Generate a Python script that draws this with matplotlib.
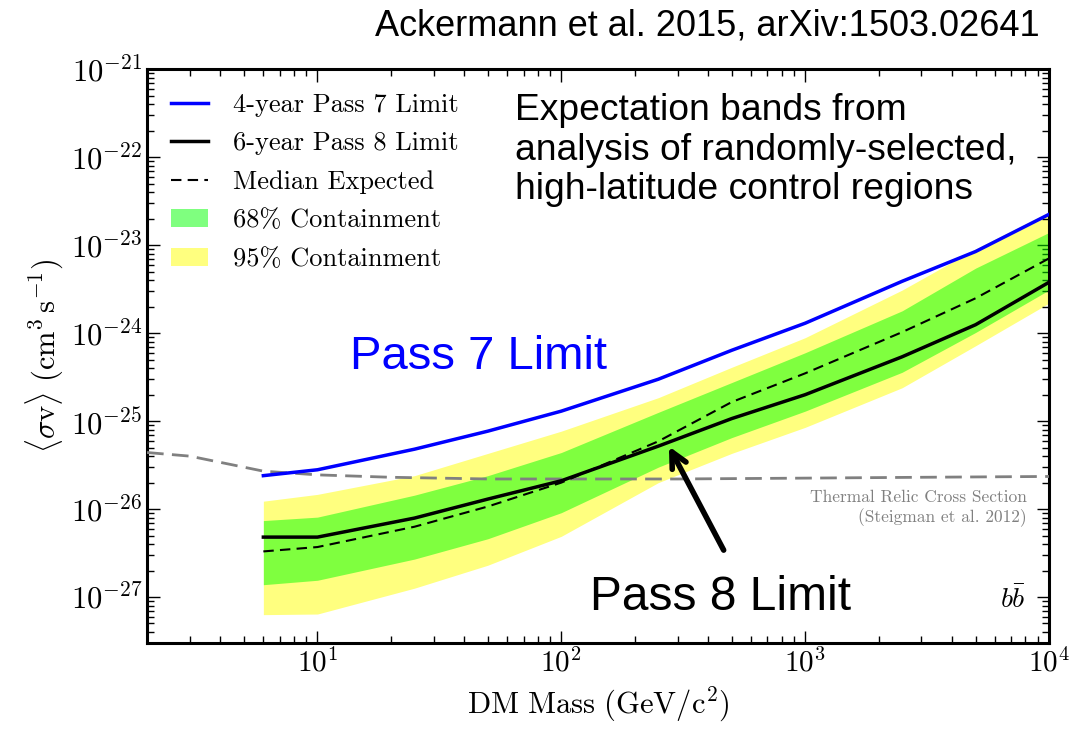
import numpy as np
import matplotlib
matplotlib.use("Agg")
import matplotlib.pyplot as plt
from matplotlib.ticker import NullFormatter

plt.rcParams['font.family'] = 'serif'
plt.rcParams['font.serif'] = ['cmr10', 'DejaVu Serif']
plt.rcParams['mathtext.fontset'] = 'cm'
plt.rcParams['axes.formatter.use_mathtext'] = True
plt.rcParams['axes.unicode_minus'] = False

# ---- data ----
mass = [6, 10, 25, 50, 100, 250, 500, 1000, 2500, 5000, 10000]
pass7_limit = [2.4e-26, 2.8e-26, 4.8e-26, 7.7e-26, 1.3e-25, 3.0e-25, 6.4e-25, 1.3e-24, 3.9e-24, 8.5e-24, 2.25e-23]
pass8_limit = [4.8e-27, 4.8e-27, 7.9e-27, 1.3e-26, 2.1e-26, 5.2e-26, 1.07e-25, 2.0e-25, 5.4e-25, 1.25e-24, 3.8e-24]
median_exp = [3.3e-27, 3.7e-27, 6.3e-27, 1.07e-26, 2.0e-26, 5.9e-26, 1.65e-25, 3.5e-25, 1.03e-24, 2.5e-24, 7.1e-24]
band68_lo = [1.38e-27, 1.55e-27, 2.7e-27, 4.6e-27, 9.1e-27, 3.0e-26, 6.5e-26, 1.3e-25, 3.6e-25, 1.02e-24, 3.1e-24]
band68_hi = [7.4e-27, 8.1e-27, 1.44e-26, 2.4e-26, 4.4e-26, 1.26e-25, 2.75e-25, 6.0e-25, 1.8e-24, 5.5e-24, 1.4e-23]
band95_lo = [6.3e-28, 6.4e-28, 1.26e-27, 2.3e-27, 4.9e-27, 2.0e-26, 4.3e-26, 8.5e-26, 2.4e-25, 7.2e-25, 2.2e-24]
band95_hi = [1.23e-26, 1.47e-26, 2.4e-26, 4.3e-26, 7.7e-26, 1.85e-25, 4.1e-25, 8.9e-25, 3.1e-24, 9.1e-24, 2.4e-23]

relic_mass = [2, 3, 6, 10, 20, 50, 100, 300, 1000, 3000, 10000]
relic_sv = [4.4e-26, 4.0e-26, 2.7e-26, 2.45e-26, 2.3e-26, 2.2e-26, 2.2e-26, 2.2e-26, 2.25e-26, 2.3e-26, 2.35e-26]

fig = plt.figure(figsize=(10.77, 7.29), dpi=100)
ax = fig.add_axes([0.1365, 0.118, 0.8375, 0.7867])

ax.fill_between(mass, band95_lo, band95_hi, color='yellow', alpha=0.5, lw=0,
                label='95% Containment', zorder=1)
ax.fill_between(mass, band68_lo, band68_hi, color='lime', alpha=0.5, lw=0,
                label='68% Containment', zorder=2)
ax.plot(relic_mass, relic_sv, color='gray', lw=2, ls=(0, (6, 3)), zorder=3)
ax.plot(mass, pass7_limit, color='blue', lw=2.5, label='4-year Pass 7 Limit', zorder=4)
ax.plot(mass, pass8_limit, color='black', lw=2.5, label='6-year Pass 8 Limit', zorder=5)
ax.plot(mass, median_exp, color='black', lw=1.5, ls=(0, (5, 3)), label='Median Expected', zorder=5)

ax.set_xscale('log')
ax.set_yscale('log')
ax.set_xlim(2, 1e4)
ax.set_ylim(3e-28, 1e-21)
ax.xaxis.set_minor_formatter(NullFormatter())
ax.yaxis.set_minor_formatter(NullFormatter())

ax.tick_params(which='both', direction='in', top=True, right=True, labelsize=21)
ax.tick_params(axis='y', which='major', labelsize=22)
ax.tick_params(which='major', length=9, width=1)
ax.tick_params(which='minor', length=5, width=1)
for s in ax.spines.values():
    s.set_linewidth(2.2)

ax.set_xlabel(r'$\mathrm{DM\ Mass\ (GeV/c^2)}$', fontsize=22, labelpad=6)
ax.set_ylabel(r'$\langle\sigma\mathrm{v}\rangle\ (\mathrm{cm}^3\,\mathrm{s}^{-1})$', fontsize=22, labelpad=4)

h, l = ax.get_legend_handles_labels()
order = ['4-year Pass 7 Limit', '6-year Pass 8 Limit', 'Median Expected', '68% Containment', '95% Containment']
hh = [h[l.index(o)] for o in order]
ax.legend(hh, order, loc='upper left', frameon=False, fontsize=19,
          bbox_to_anchor=(0.0, 1.0), handlelength=1.4, labelspacing=0.56, handletextpad=0.95)

fig.text(0.965, 0.965, 'Ackermann et al. 2015, arXiv:1503.02641', ha='right', va='center',
         family='Liberation Sans', fontsize=26)
fig.text(515/1077, 1 - 150/729, 'Expectation bands from\nanalysis of randomly-selected,\nhigh-latitude control regions',
         ha='left', va='center', family='Liberation Sans', fontsize=26.8, linespacing=1.15)
fig.text(350/1077, 1 - 357/729, 'Pass 7 Limit', color='blue', ha='left', va='center',
         family='Liberation Sans', fontsize=34)
fig.text(590/1077, 1 - 597/729, 'Pass 8 Limit', color='black', ha='left', va='center',
         family='Liberation Sans', fontsize=34.5)
ax.annotate('', xy=(273, 5.5e-26), xytext=(469, 3.2e-27),
            arrowprops=dict(arrowstyle='->', lw=4, color='black', mutation_scale=28))
ax.text(0.975, 0.235, 'Thermal Relic Cross Section\n(Steigman et al. 2012)', transform=ax.transAxes,
        ha='right', va='center', fontsize=12.5, color='gray', linespacing=1.2)
ax.text(0.975, 0.075, r'$b\bar{b}$', transform=ax.transAxes, ha='right', va='center', fontsize=20)

fig.savefig('out.png', dpi=100)
